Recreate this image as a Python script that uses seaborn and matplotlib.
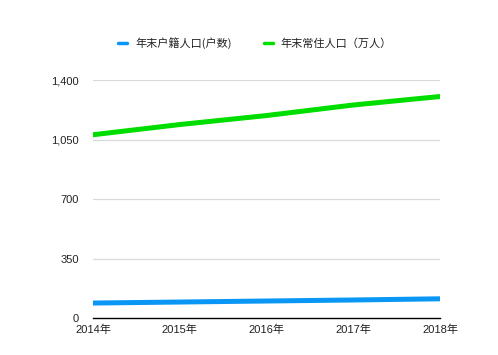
import matplotlib
matplotlib.use('Agg')
import matplotlib.pyplot as plt
import seaborn as sns
import pandas as pd

# data
years = ['2014年', '2015年', '2016年', '2017年', '2018年']
huji = [88, 94, 100, 106, 113]          # 年末户籍人口(户数)
changzhu = [1078, 1138, 1191, 1253, 1303]  # 年末常住人口（万人）
yticks = [0, 350, 700, 1050, 1400]
series_names = ['年末户籍人口(户数)', '年末常住人口（万人）']
colors = ['#0a96f5', '#00de00']

sns.set_style('white')
plt.rcParams['font.family'] = ['Liberation Sans', 'Noto Sans CJK SC']

df = pd.DataFrame({'year': years * 2,
                   'value': huji + changzhu,
                   'series': [series_names[0]] * 5 + [series_names[1]] * 5})
df['x'] = list(range(5)) * 2

fig = plt.figure(figsize=(4.98, 3.55), dpi=100)
ax = fig.add_axes([0.1867, 0.1042, 0.6968, 0.6704])

sns.lineplot(data=df, x='x', y='value', hue='series', palette=colors,
             linewidth=3.6, ax=ax, legend=False)

ax.set_xlim(0, 4)
ax.set_ylim(0, 1400)
ax.set_yticks(yticks)
ax.set_yticklabels([f'{v:,}' for v in yticks], fontsize=8, color='#222222')
ax.set_xticks(range(5))
ax.set_xticklabels(years, fontsize=8, color='#222222')
ax.tick_params(axis='both', length=0)
ax.tick_params(axis='y', pad=10)
ax.tick_params(axis='x', pad=5)
for t in yticks[1:]:
    ax.axhline(t, color='#d9d9d9', linewidth=0.9, zorder=0)
for s in ['top', 'right', 'left']:
    ax.spines[s].set_visible(False)
ax.spines['bottom'].set_color('black')
ax.spines['bottom'].set_linewidth(1.0)
ax.set_xlabel('')
ax.set_ylabel('')

handles = [plt.Line2D([], [], color=c, linewidth=2.5) for c in colors]
leg = fig.legend(handles, series_names, loc='center', bbox_to_anchor=(0.512, 0.878),
                 ncol=2, frameon=False, fontsize=8, handlelength=0.8,
                 handletextpad=0.7, columnspacing=2.9)
for t in leg.get_texts():
    t.set_family(['Noto Sans CJK SC'])
    t.set_color('#222222')

fig.savefig('out.png', dpi=100)
